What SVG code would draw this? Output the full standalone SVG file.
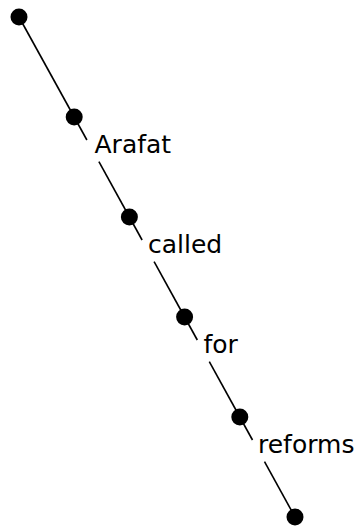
<svg xmlns="http://www.w3.org/2000/svg" width="357" height="529" viewBox="0 0 357 529">
<style>
.e{stroke:#000;stroke-width:1.6;fill:none}
.d{fill:#000}
.t{font-family:"DejaVu Sans",sans-serif;font-size:25px;fill:#000}
</style>
<rect width="357" height="529" fill="#fff"/>
<g id="connectors">
<line class="e" x1="19" y1="17" x2="74.2" y2="117"/>
<line class="e" x1="74.2" y1="117" x2="86.9" y2="140"/>
<line class="e" x1="98.9" y1="161.7" x2="129.4" y2="217"/>
<line class="e" x1="129.4" y1="217" x2="142.1" y2="240"/>
<line class="e" x1="154.1" y1="261.7" x2="184.6" y2="317"/>
<line class="e" x1="184.6" y1="317" x2="197.3" y2="340"/>
<line class="e" x1="209.3" y1="361.7" x2="239.8" y2="417"/>
<line class="e" x1="239.8" y1="417" x2="252.5" y2="440"/>
<line class="e" x1="264.5" y1="461.7" x2="295" y2="517"/>
</g>
<g id="n0"><circle class="d" cx="19" cy="17" r="8.5"/></g>
<g id="n1"><circle class="d" cx="74.2" cy="117" r="8.5"/></g>
<g id="n2"><circle class="d" cx="129.4" cy="217" r="8.5"/></g>
<g id="n3"><circle class="d" cx="184.6" cy="317" r="8.5"/></g>
<g id="n4"><circle class="d" cx="239.8" cy="417" r="8.5"/></g>
<g id="n5"><circle class="d" cx="295" cy="517" r="8.5"/></g>
<g id="l1"><text class="t" x="94.5" y="153">Arafat</text></g>
<g id="l2"><text class="t" x="148" y="253">called</text></g>
<g id="l3"><text class="t" x="203.5" y="353">for</text></g>
<g id="l4"><text class="t" x="258" y="453">reforms</text></g>
</svg>
